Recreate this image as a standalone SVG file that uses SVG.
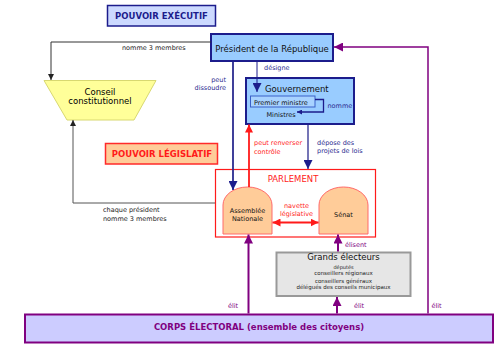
<svg xmlns="http://www.w3.org/2000/svg" width="501" height="344" viewBox="0 0 501 344">
<style>
text{font-family:"DejaVu Sans","Liberation Sans",sans-serif;}
.t85{font-size:8.5px;fill:#000}
.sm{font-size:6.5px}
.xs{font-size:5.5px;fill:#222}
.bold{font-weight:bold}
.navy{fill:#2b2b8f}
.red{fill:#ff1a1a}
.purp{fill:#800080}
.blk{fill:#222}
.ln{fill:none}
</style>
<defs>
<marker id="aNavy" markerUnits="userSpaceOnUse" markerWidth="9" markerHeight="9" viewBox="0 0 10 10" refX="10" refY="5" orient="auto"><path d="M0,0 L10,5 L0,10 Z" fill="#1c1c8c"/></marker>
<marker id="aNavyBig" markerUnits="userSpaceOnUse" markerWidth="9" markerHeight="9" viewBox="0 0 10 10" refX="10" refY="5" orient="auto"><path d="M0,0 L10,5 L0,10 Z" fill="#1c1c8c"/></marker>
<marker id="aNavySm" markerUnits="userSpaceOnUse" markerWidth="5" markerHeight="5" viewBox="0 0 10 10" refX="10" refY="5" orient="auto"><path d="M0,0 L10,5 L0,10 Z" fill="#1c1c8c"/></marker>
<marker id="aRed" markerUnits="userSpaceOnUse" markerWidth="8" markerHeight="8" viewBox="0 0 10 10" refX="10" refY="5" orient="auto-start-reverse"><path d="M0,0 L10,5 L0,10 Z" fill="#ff1a1a"/></marker>
<marker id="aPurp" markerUnits="userSpaceOnUse" markerWidth="9" markerHeight="9" viewBox="0 0 10 10" refX="10" refY="5" orient="auto"><path d="M0,0 L10,5 L0,10 Z" fill="#800080"/></marker>
<marker id="aBlk" markerUnits="userSpaceOnUse" markerWidth="6" markerHeight="6" viewBox="0 0 10 10" refX="10" refY="5" orient="auto"><path d="M0,0 L10,5 L0,10 Z" fill="#222"/></marker>
</defs>

<g id="pouvoir-executif">
  <rect x="107.5" y="5.5" width="108" height="20.5" fill="#ccd9ff" stroke="#1c1c8c" stroke-width="1.5"/>
  <text x="161.5" y="19" class="t85 bold" text-anchor="middle" style="fill:#1c1c8c">POUVOIR EXÉCUTIF</text>
</g>

<g id="president">
  <rect x="211" y="34" width="122" height="27" fill="#99ccff" stroke="#1c1c8c" stroke-width="2"/>
  <text x="272" y="52" class="t85" text-anchor="middle" style="fill:#111">Président de la République</text>
</g>

<g id="conseil">
  <path d="M44,80.5 H156 L134,120 H67 Z" fill="#ffff99" stroke="#d8d870" stroke-width="1"/>
  <text x="100" y="95" class="t85" text-anchor="middle">Conseil</text>
  <text x="100" y="104" class="t85" text-anchor="middle">constitutionnel</text>
</g>

<g id="gouvernement">
  <rect x="246" y="78" width="108" height="46" fill="#99ccff" stroke="#1c1c8c" stroke-width="2"/>
  <text x="265" y="91.5" class="t85" style="fill:#111">Gouvernement</text>
  <rect x="250.5" y="96" width="64.5" height="11" fill="#a8d2ff" stroke="#3a60c8" stroke-width="1"/>
  <text x="254" y="104.5" class="sm" style="fill:#111">Premier ministre</text>
  <text x="266.5" y="116.5" class="sm" style="fill:#111">Ministres</text>
</g>

<g id="pouvoir-legislatif">
  <rect x="105.5" y="143.5" width="112" height="20.5" fill="#ffcc99" stroke="#ff2a2a" stroke-width="1.5"/>
  <text x="162" y="156.5" class="t85 bold" text-anchor="middle" style="fill:#ff1a1a">POUVOIR LÉGISLATIF</text>
</g>

<g id="parlement">
  <rect x="215.5" y="169.5" width="160" height="67.5" fill="none" stroke="#ff1a1a" stroke-width="1.2"/>
  <text x="293" y="182" class="t85" text-anchor="middle" style="fill:#ff1a1a">PARLEMENT</text>
</g>

<g id="assemblee">
  <path d="M223,234 V205 A24.5,18 0 0 1 272,205 V234 Z" fill="#ffcc99" stroke="#ff6a6a" stroke-width="1"/>
  <text x="247.5" y="213" class="sm" text-anchor="middle" style="fill:#111">Assemblée</text>
  <text x="247.5" y="220.5" class="sm" text-anchor="middle" style="fill:#111">Nationale</text>
</g>

<g id="senat">
  <path d="M319,234 V205 A24.5,18 0 0 1 368,205 V234 Z" fill="#ffcc99" stroke="#ff6a6a" stroke-width="1"/>
  <text x="343.5" y="216.5" class="sm" text-anchor="middle" style="fill:#111">Sénat</text>
</g>

<g id="grands-electeurs">
  <rect x="276.5" y="252.5" width="134" height="43.5" fill="#e6e6e6" stroke="#999" stroke-width="2"/>
  <text x="343.5" y="260" class="t85" text-anchor="middle" style="fill:#111">Grands électeurs</text>
  <text x="343.5" y="268.7" class="xs" text-anchor="middle" style="font-size:5px">députés</text>
  <text x="343.5" y="275.3" class="xs" text-anchor="middle">conseillers régionaux</text>
  <text x="343.5" y="282.5" class="xs" text-anchor="middle">conseillers généraux</text>
  <text x="343.5" y="289.3" class="xs" text-anchor="middle">délégués des conseils municipaux</text>
</g>

<g id="corps-electoral">
  <rect x="25" y="314.5" width="468" height="28" fill="#ccccff" stroke="#800080" stroke-width="2"/>
  <text x="259" y="330" class="t85 bold" text-anchor="middle" style="fill:#800080">CORPS ÉLECTORAL (ensemble des citoyens)</text>
</g>

<g id="connectors">
  <path d="M211,42 H51 V80" class="ln" stroke="#333" stroke-width="1" marker-end="url(#aBlk)"/>
  <path d="M215,203 H73 V120" class="ln" stroke="#555" stroke-width="1" marker-end="url(#aBlk)"/>
  <path d="M233,62 V190" class="ln" stroke="#2b2b8f" stroke-width="1.8" marker-end="url(#aNavy)"/>
  <path d="M257,62 V92" class="ln" stroke="#1c1c8c" stroke-width="1" marker-end="url(#aNavyBig)"/>
  <path d="M315,99.5 H323.5 V112 H297" class="ln" stroke="#1c1c8c" stroke-width="1.3" marker-end="url(#aNavySm)"/>
  <path d="M249,187 V124.5" class="ln" stroke="#ff1a1a" stroke-width="1.8" marker-end="url(#aRed)"/>
  <path d="M308,125 V169" class="ln" stroke="#2b2b8f" stroke-width="1.3" marker-end="url(#aNavy)"/>
  <path d="M272.5,222.5 H318.5" class="ln" stroke="#ff1a1a" stroke-width="2" marker-start="url(#aRed)" marker-end="url(#aRed)"/>
  <path d="M248.5,313.5 V234.5" class="ln" stroke="#800080" stroke-width="2" marker-end="url(#aPurp)"/>
  <path d="M338,251.5 V234.5" class="ln" stroke="#800080" stroke-width="2" marker-end="url(#aPurp)"/>
  <path d="M337,313.5 V297" class="ln" stroke="#800080" stroke-width="2" marker-end="url(#aPurp)"/>
  <path d="M428,313.5 V47 H334" class="ln" stroke="#800080" stroke-width="1.5" marker-end="url(#aPurp)"/>

  <text x="122" y="50" class="sm blk">nomme 3 membres</text>
  <text x="103" y="212" class="sm blk">chaque président</text>
  <text x="103" y="220.5" class="sm blk">nomme 3 membres</text>
  <text x="226" y="81.5" class="sm navy" text-anchor="end">peut</text>
  <text x="226" y="89.5" class="sm navy" text-anchor="end">dissoudre</text>
  <text x="264" y="69.5" class="sm navy">désigne</text>
  <text x="327.5" y="107.5" class="sm navy">nomme</text>
  <text x="254" y="145" class="sm red">peut renverser</text>
  <text x="254" y="153.5" class="sm red">contrôle</text>
  <text x="317" y="144.5" class="sm navy">dépose des</text>
  <text x="317" y="152.5" class="sm navy">projets de lois</text>
  <text x="296.5" y="208" class="sm red" text-anchor="middle">navette</text>
  <text x="296.5" y="216" class="sm red" text-anchor="middle">législative</text>
  <text x="345" y="247" class="sm purp">élisent</text>
  <text x="228" y="308" class="sm purp">élit</text>
  <text x="354" y="308" class="sm purp">élit</text>
  <text x="431.5" y="308" class="sm purp">élit</text>
</g>
</svg>
